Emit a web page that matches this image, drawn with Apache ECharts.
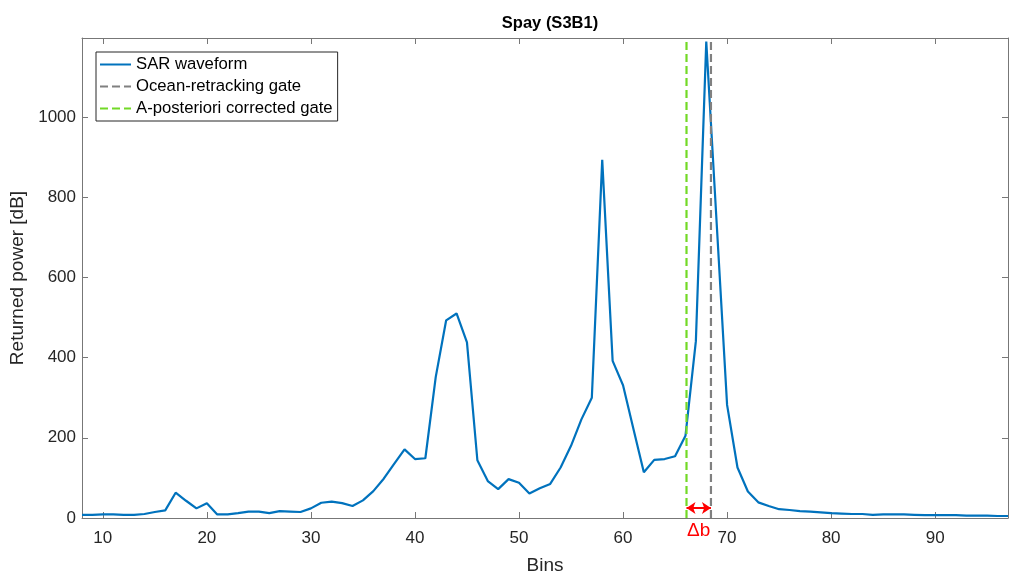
<!DOCTYPE html>
<html>
<head>
<meta charset="utf-8">
<script src="https://cdn.jsdelivr.net/npm/echarts@6/dist/echarts.min.js"></script>
<style>html,body{margin:0;padding:0;background:#fff}#c{width:1009px;height:572px}</style>
</head>
<body>
<div id="c"></div>
<script>
const bins = [8,9,10,11,12,13,14,15,16,17,18,19,20,21,22,23,24,25,26,27,28,29,30,31,32,33,34,35,36,37,38,39,40,41,42,43,44,45,46,47,48,49,50,51,52,53,54,55,56,57,58,59,60,61,62,63,64,65,66,67,68,69,70,71,72,73,74,75,76,77,78,79,80,81,82,83,84,85,86,87,88,89,90,91,92,93,94,95,96,97];
const power = [8,8,9,9,8,8,10,15,19,63,43,24,37,9,9,12,16,16,12,17,16,15,24,38,41,37,30,44,67,98,135,171,147,149,352,493,510,438,144,92,72,97,88,61,74,85,126,180,246,300,893,392,331,222,114,145,147,154,205,441,1188,735,282,126,66,39,30,22,20,17,16,14,12,11,10,10,8,9,9,9,8,7,7,7,7,6,6,6,5,5];
const oceanGate = 68.45;
const correctedGate = 66.1;
const deltaBLevel = 25;
const xTicks = [10,20,30,40,50,60,70,80,90];
const yTicks = [0,200,400,600,800,1000];
const xRange = [8, 97];
const yRange = [0, 1197];
const seriesNames = ['SAR waveform','Ocean-retracking gate','A-posteriori corrected gate'];

const FONT = '"Liberation Sans", Arial, sans-serif';
const AX = '#777777';
const TXT = '#262626';

const chart = echarts.init(document.getElementById('c'), null, {renderer:'canvas'});
const baseX = {
  type:'value', min:xRange[0], max:xRange[1],
  axisLine:{show:true, onZero:false, lineStyle:{color:AX, width:1}},
  axisTick:{show:true, inside:true, length:6, customValues:xTicks, lineStyle:{color:AX}},
  splitLine:{show:false}
};
const baseY = {
  type:'value', min:yRange[0], max:yRange[1],
  axisLine:{show:true, onZero:false, lineStyle:{color:AX, width:1}},
  axisTick:{show:true, inside:true, length:6, customValues:yTicks, lineStyle:{color:AX}},
  splitLine:{show:false}
};
const option = {
  animation:false,
  backgroundColor:'#ffffff',
  title:{text:'Spay (S3B1)', left:545, top:10, textAlign:'center',
    textStyle:{fontFamily:FONT, fontSize:16.5, fontWeight:'bold', color:'#000'}},
  grid:{left:82, right:1, top:38, bottom:54, containLabel:false, outerBoundsMode:'none'},
  legend:{
    left:96, top:52, orient:'vertical',
    data:seriesNames,
    itemWidth:31, itemHeight:14, itemGap:5,
    padding:[4,5,4,3],
    borderColor:'#262626', borderWidth:1, backgroundColor:'#fff',
    itemStyle:{opacity:0},
    textStyle:{fontFamily:FONT, fontSize:16.7, color:'#000'}
  },
  xAxis:[
    Object.assign({}, baseX, {
      position:'bottom',
      name:'Bins', nameLocation:'middle', nameGap:38,
      nameTextStyle:{fontFamily:FONT, fontSize:19, color:TXT},
      axisLabel:{show:true, customValues:xTicks, margin:12, fontFamily:FONT, fontSize:17, color:TXT}
    }),
    Object.assign({}, baseX, {position:'top', axisLabel:{show:false}})
  ],
  yAxis:[
    Object.assign({}, baseY, {
      position:'left',
      name:'Returned power [dB]', nameLocation:'middle', nameGap:47,
      nameTextStyle:{fontFamily:FONT, fontSize:19, color:TXT},
      axisLabel:{show:true, customValues:yTicks, margin:6, fontFamily:FONT, fontSize:17, color:TXT,
        formatter:(v)=>String(v)}
    }),
    Object.assign({}, baseY, {position:'right', axisLabel:{show:false}})
  ],
  series:[
    {
      name:seriesNames[0], type:'line', xAxisIndex:0, yAxisIndex:0,
      data:bins.map((b,i)=>[b, power[i]]),
      symbol:'none', clip:true,
      lineStyle:{color:'#0072BD', width:2.2},
      itemStyle:{color:'#0072BD'},
      z:3
    },
    {
      name:seriesNames[1], type:'line', xAxisIndex:0, yAxisIndex:0,
      data:[[oceanGate, yRange[0]],[oceanGate, yRange[1]]],
      symbol:'none',
      lineStyle:{color:'#808080', width:2.2, type:[8,4]},
      itemStyle:{color:'#808080'},
      z:4
    },
    {
      name:seriesNames[2], type:'line', xAxisIndex:0, yAxisIndex:0,
      data:[[correctedGate, yRange[0]],[correctedGate, yRange[1]]],
      symbol:'none',
      lineStyle:{color:'#72d926', width:2.2, type:[8,4]},
      itemStyle:{color:'#72d926'},
      z:4,
      markLine:{
        silent:true, animation:false,
        symbol:['arrow','arrow'], symbolSize:[9,9],
        lineStyle:{color:'#ff0000', width:2, type:'solid'},
        label:{show:false},
        data:[[{coord:[correctedGate, deltaBLevel]},{coord:[oceanGate, deltaBLevel]}]]
      },
      markPoint:{
        silent:true, animation:false,
        symbol:'circle', symbolSize:0,
        label:{show:true, formatter:'\u0394b', color:'#ff0000', fontFamily:FONT, fontSize:19, offset:[0,13]},
        data:[{coord:[(correctedGate+oceanGate)/2, 0]}]
      }
    }
  ]
};
chart.setOption(option);
</script>
</body>
</html>
